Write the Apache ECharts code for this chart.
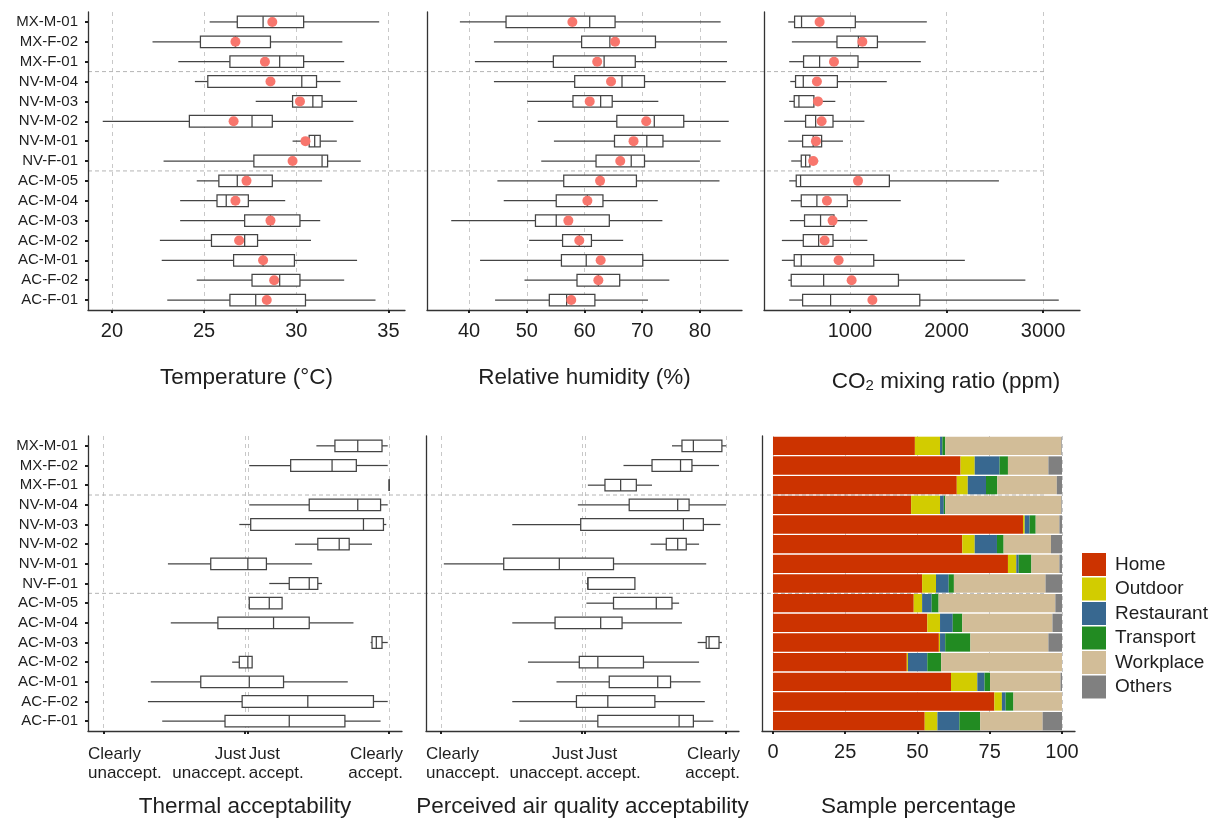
<!DOCTYPE html>
<html>
<head>
<meta charset="utf-8">
<title>Exposure by participant</title>
<script src="https://cdn.jsdelivr.net/npm/echarts@6/dist/echarts.min.js"></script>
<style>
  html, body { margin: 0; padding: 0; background: #fff; }
  #chart { width: 1217px; height: 821px; }
</style>
</head>
<body>
<div id="chart"></div>
<script>
// participants, top to bottom
const cats = ['MX-M-01', 'MX-F-02', 'MX-F-01', 'NV-M-04', 'NV-M-03', 'NV-M-02', 'NV-M-01', 'NV-F-01',
  'AC-M-05', 'AC-M-04', 'AC-M-03', 'AC-M-02', 'AC-M-01', 'AC-F-02', 'AC-F-01']

// box stats: [lower whisker, q1, median, q3, upper whisker]
const tempBox = [
  [25.3, 26.8, 28.2, 30.4, 34.5], [22.2, 24.8, 26.7, 28.6, 32.5], [23.6, 26.4, 29.1, 30.4, 32.6],
  [24.5, 25.2, 30.3, 31.1, 32.4], [27.8, 29.8, 30.9, 31.4, 33.3], [19.5, 24.2, 27.6, 28.7, 33.1],
  [29.8, 30.7, 31.0, 31.3, 32.2], [22.8, 27.7, 31.4, 31.7, 33.5], [24.6, 25.8, 26.8, 28.7, 31.4],
  [23.7, 25.7, 26.2, 27.4, 29.4], [23.7, 27.2, 28.6, 30.2, 31.3], [22.6, 25.4, 27.2, 27.9, 30.8],
  [22.7, 26.6, 28.2, 29.9, 33.3], [24.6, 27.6, 29.1, 30.2, 32.6], [23.0, 26.4, 27.8, 30.5, 34.3],
]
const tempMean = [28.7, 26.7, 28.3, 28.6, 30.2, 26.6, 30.5, 29.8, 27.3, 26.7, 28.6, 26.9, 28.2, 28.8, 28.4]

const rhBox = [
  [38.4, 46.4, 60.9, 65.3, 83.6], [44.3, 59.5, 64.4, 72.3, 84.7], [41.0, 54.6, 63.4, 68.8, 84.7],
  [44.3, 58.3, 66.5, 70.4, 84.5], [50.1, 58.0, 62.8, 64.8, 72.8], [51.9, 65.6, 72.1, 77.2, 85.0],
  [54.7, 65.2, 70.8, 73.6, 83.6], [52.5, 62.0, 68.1, 70.4, 80.0], [44.9, 56.4, 62.7, 69.0, 83.4],
  [46.0, 55.1, 60.5, 63.2, 72.7], [36.9, 51.5, 55.1, 64.3, 73.5], [50.4, 56.2, 59.1, 61.2, 66.7],
  [41.9, 56.0, 60.3, 70.1, 85.0], [49.6, 58.7, 62.4, 66.1, 74.7], [44.5, 53.9, 56.9, 61.8, 71.0],
]
const rhMean = [57.9, 65.3, 62.2, 64.6, 60.9, 70.7, 68.5, 66.2, 62.7, 60.5, 57.2, 59.1, 62.8, 62.4, 57.7]

const co2Box = [
  [360, 426, 498, 1055, 1796], [398, 865, 1087, 1284, 1785], [370, 519, 685, 1083, 1734],
  [381, 436, 516, 869, 1381], [370, 422, 471, 626, 848], [318, 540, 644, 824, 1149],
  [360, 509, 619, 706, 927], [391, 495, 540, 585, 671], [370, 443, 488, 1408, 2543],
  [388, 495, 657, 972, 1526], [377, 529, 695, 834, 1180], [294, 516, 675, 824, 1180],
  [294, 422, 495, 1246, 2190], [360, 391, 727, 1502, 2817], [370, 509, 799, 1723, 3163],
]
const co2Mean = [685, 1128, 834, 657, 668, 706, 647, 619, 1083, 761, 820, 737, 882, 1017, 1232]

const thermalBox = [
  [0.49, 0.62, 0.78, 0.95, 0.99], [0.02, 0.31, 0.60, 0.77, 0.99], [1, 1, 1, 1, 1],
  [0.02, 0.44, 0.78, 0.94, 0.99], [-0.05, 0.03, 0.82, 0.96, 0.98], [0.34, 0.50, 0.65, 0.72, 0.88],
  [-0.55, -0.25, 0.01, 0.14, 0.46], [0.16, 0.30, 0.44, 0.50, 0.53], [0.02, 0.02, 0.16, 0.25, 0.25],
  [-0.53, -0.20, 0.19, 0.44, 0.75], [0.87, 0.88, 0.91, 0.95, 0.99], [-0.10, -0.05, 0.01, 0.04, 0.04],
  [-0.67, -0.32, 0.02, 0.26, 0.71], [-0.69, -0.03, 0.43, 0.89, 0.99], [-0.59, -0.15, 0.30, 0.69, 0.94],
]

const paqBox = [
  [0.62, 0.69, 0.77, 0.97, 1.00], [0.28, 0.48, 0.68, 0.76, 0.95], [0.03, 0.15, 0.26, 0.37, 0.48],
  [-0.04, 0.32, 0.66, 0.74, 1.00], [-0.50, -0.02, 0.70, 0.84, 0.96], [0.47, 0.58, 0.66, 0.72, 0.81],
  [-0.98, -0.56, -0.17, 0.21, 0.86], [0.02, 0.03, 0.03, 0.36, 0.36], [0.02, 0.21, 0.51, 0.62, 0.67],
  [-0.50, -0.20, 0.12, 0.27, 0.69], [0.80, 0.86, 0.88, 0.95, 0.97], [-0.39, -0.03, 0.10, 0.42, 0.81],
  [-0.19, 0.18, 0.52, 0.61, 0.82], [-0.50, -0.05, 0.17, 0.50, 0.85], [-0.45, 0.10, 0.67, 0.77, 0.91],
]

// sample percentage by location
const home = [49.1, 64.9, 63.6, 47.8, 86.5, 65.5, 81.3, 51.6, 48.7, 53.4, 57.4, 46.3, 61.6, 76.6, 52.5]
const outdoor = [8.7, 4.9, 3.8, 10.0, 0.6, 4.3, 2.9, 4.8, 2.9, 4.4, 0.4, 0.4, 9.1, 2.6, 4.4]
const restaurant = [0.8, 8.6, 6.3, 1.3, 1.7, 7.7, 0.8, 4.4, 3.3, 4.4, 1.8, 6.7, 2.5, 1.3, 7.6]
const transport = [1.0, 2.9, 3.9, 0.5, 2.1, 2.3, 4.4, 1.8, 2.4, 3.3, 8.7, 4.8, 1.9, 2.7, 7.2]
const workplace = [40.2, 14.0, 20.6, 40.2, 8.2, 16.4, 9.7, 31.7, 40.4, 31.2, 27.0, 41.8, 24.4, 16.8, 21.6]
const others = [0.2, 4.7, 1.8, 0.2, 0.9, 3.8, 0.9, 5.7, 2.3, 3.3, 4.7, 0, 0.5, 0, 6.7]

const tempTicks = [20, 25, 30, 35]
const rhTicks = [40, 50, 60, 70, 80]
const co2Ticks = [1000, 2000, 3000]
const acceptTicks = [-1, -0.01, 0.01, 1]
const pctTicks = [0, 25, 50, 75, 100]
const acceptLabels = ['Clearly\nunaccept.', 'Just\nunaccept.', 'Just\naccept.', 'Clearly\naccept.']

const FONT = "'Liberation Sans', Arial, sans-serif"
const INK = '#1e1e1e'
const BOX_LINE = '#444'
const TOP = { top: 12, height: 298 }
const BOT = { top: 436, height: 295 }
const cols = [[88, 317], [427, 315], [764, 316], [88, 314], [426, 313], [762, 313]]

let chart = echarts.init(document.getElementById('chart'))

function renderBox(params, api) {
  const k = api.value(0)
  const p = [1, 2, 3, 4, 5].map((d) => api.coord([api.value(d), k]))
  const h = 11.6
  const y = p[0][1]
  const st = { stroke: BOX_LINE, lineWidth: 1.25, fill: null }
  return {
    type: 'group',
    children: [
      { type: 'line', shape: { x1: p[0][0], y1: y, x2: p[1][0], y2: y }, style: st },
      { type: 'line', shape: { x1: p[3][0], y1: y, x2: p[4][0], y2: y }, style: st },
      {
        type: 'rect',
        shape: { x: p[1][0], y: y - h / 2, width: p[3][0] - p[1][0], height: h },
        style: { fill: '#fff', stroke: BOX_LINE, lineWidth: 1.25 },
      },
      { type: 'line', shape: { x1: p[2][0], y1: y - h / 2, x2: p[2][0], y2: y + h / 2 }, style: st },
    ],
  }
}

function xAxisOf(i, min, max, ticks, name, nameGap, showLabels) {
  return {
    type: 'value',
    gridIndex: i,
    min: min,
    max: max,
    name: name,
    nameLocation: 'middle',
    nameGap: nameGap,
    nameTextStyle: { fontSize: 22.5, color: INK, fontFamily: FONT },
    axisLine: { show: true, onZero: false, lineStyle: { color: '#333', width: 1.3 } },
    axisTick: { show: true, length: 3, customValues: ticks, lineStyle: { color: INK, width: 2 } },
    axisLabel: {
      show: showLabels,
      customValues: ticks,
      formatter: (v) => String(v),
      fontSize: 20,
      color: INK,
      fontFamily: FONT,
      margin: 11,
    },
    splitLine: { show: true, lineStyle: { color: '#c8c8c8', width: 1, type: [4, 4] } },
  }
}

function yAxisOf(i) {
  const labelled = i === 0 || i === 3
  return {
    type: 'category',
    gridIndex: i,
    data: cats,
    inverse: true,
    axisLine: { show: true, onZero: false, lineStyle: { color: '#333', width: 1.3 } },
    axisTick: { show: labelled, length: 3, alignWithLabel: true, lineStyle: { color: INK, width: 2 } },
    axisLabel: { show: labelled, fontSize: 15, color: INK, fontFamily: FONT, margin: 10 },
    splitLine: { show: false },
  }
}

function boxSeries(i, box) {
  return {
    type: 'custom',
    xAxisIndex: i,
    yAxisIndex: i,
    renderItem: renderBox,
    data: box.map((b, k) => [k].concat(b)),
    encode: { x: [1, 2, 3, 4, 5], y: 0 },
    z: 3,
  }
}

function meanSeries(i, mean) {
  return {
    type: 'scatter',
    xAxisIndex: i,
    yAxisIndex: i,
    data: mean.map((m, k) => [m, k]),
    symbolSize: 10,
    itemStyle: { color: '#F8766D', opacity: 1 },
    z: 4,
  }
}

const places = [
  ['Home', home, '#CC3300'],
  ['Outdoor', outdoor, '#D2CC00'],
  ['Restaurant', restaurant, '#386890'],
  ['Transport', transport, '#228B22'],
  ['Workplace', workplace, '#D2BD98'],
  ['Others', others, '#808080'],
]

const grids = cols.map((c, i) => ({
  left: c[0],
  width: c[1],
  top: i < 3 ? TOP.top : BOT.top,
  height: i < 3 ? TOP.height : BOT.height,
  outerBoundsMode: 'none',
}))

chart.setOption({
  animation: false,
  textStyle: { fontFamily: FONT },
  grid: grids,
  legend: {
    orient: 'vertical',
    left: 1077,
    top: 548,
    icon: 'rect',
    itemWidth: 24,
    itemHeight: 23,
    itemGap: 1.5,
    textStyle: { fontSize: 19, color: INK, fontFamily: FONT, padding: [0, 0, 0, 4] },
    data: places.map((p) => p[0]),
  },
  xAxis: [
    xAxisOf(0, 18.7, 35.9, tempTicks, 'Temperature (°C)', 56, true),
    xAxisOf(1, 32.7, 87.3, rhTicks, 'Relative humidity (%)', 56, true),
    Object.assign(xAxisOf(2, 109, 3383, co2Ticks, '{p|CO}{s|2}{a| mixing ratio (ppm)}', 56, true), {
      nameTextStyle: {
        fontFamily: FONT,
        color: INK,
        rich: {
          p: { fontSize: 22.5, color: INK, fontFamily: FONT, lineHeight: 27, verticalAlign: 'bottom', padding: [0, 0, 0, 48] },
          a: { fontSize: 22.5, color: INK, fontFamily: FONT, lineHeight: 27, verticalAlign: 'bottom' },
          s: { fontSize: 15, color: INK, fontFamily: FONT, lineHeight: 20, verticalAlign: 'bottom' },
        },
      },
    }),
    xAxisOf(3, -1.11, 1.09, acceptTicks, 'Thermal acceptability', 64, false),
    xAxisOf(4, -1.105, 1.09, acceptTicks, 'Perceived air quality acceptability', 64, false),
    xAxisOf(5, -3.8, 104.5, pctTicks, 'Sample percentage', 64, true),
  ],
  yAxis: [0, 1, 2, 3, 4, 5].map(yAxisOf),
  series: [
    boxSeries(0, tempBox), meanSeries(0, tempMean),
    boxSeries(1, rhBox), meanSeries(1, rhMean),
    boxSeries(2, co2Box), meanSeries(2, co2Mean),
    boxSeries(3, thermalBox),
    boxSeries(4, paqBox),
  ].concat(places.map((p) => ({
    name: p[0],
    type: 'bar',
    stack: 'place',
    xAxisIndex: 5,
    yAxisIndex: 5,
    data: p[1],
    barCategoryGap: '7%',
    itemStyle: { color: p[2] },
    z: 3,
  }))),
})

// group separators and the acceptability scale labels
function between(axis, a, b) {
  return (chart.convertToPixel({ yAxisIndex: axis }, cats[a]) + chart.convertToPixel({ yAxisIndex: axis }, cats[b])) / 2
}
const sepStart = chart.convertToPixel({ xAxisIndex: 0 }, 18.7)
const sepEnd = chart.convertToPixel({ xAxisIndex: 2 }, 3000) + 2
const sepStyle = { stroke: '#b4b4b4', lineWidth: 1, lineDash: [4, 3] }
let extras = []
;[[0, 2, 3], [0, 7, 8], [3, 2, 3], [3, 7, 8]].forEach((s) => {
  const y = between(s[0], s[1], s[2])
  extras.push({ type: 'line', z: 0, shape: { x1: sepStart, y1: y, x2: sepEnd, y2: y }, style: sepStyle })
})

const labelY = BOT.top + BOT.height + 14
;[[3, -1.11, 1.09], [4, -1.105, 1.09]].forEach((a) => {
  const px = (v) => chart.convertToPixel({ xAxisIndex: a[0] }, v)
  const spots = [[px(a[1]), 'left'], [px(-0.01) + 1, 'right'], [px(0.01) + 1, 'left'], [px(a[2]) + 1, 'right']]
  spots.forEach((s, k) => {
    extras.push({
      type: 'text',
      z: 5,
      style: {
        text: acceptLabels[k],
        x: s[0],
        y: labelY,
        align: s[1],
        verticalAlign: 'top',
        fontSize: 17,
        lineHeight: 19,
        fontFamily: FONT,
        fill: INK,
      },
    })
  })
})

chart.setOption({ graphic: { elements: extras } })
</script>
</body>
</html>
